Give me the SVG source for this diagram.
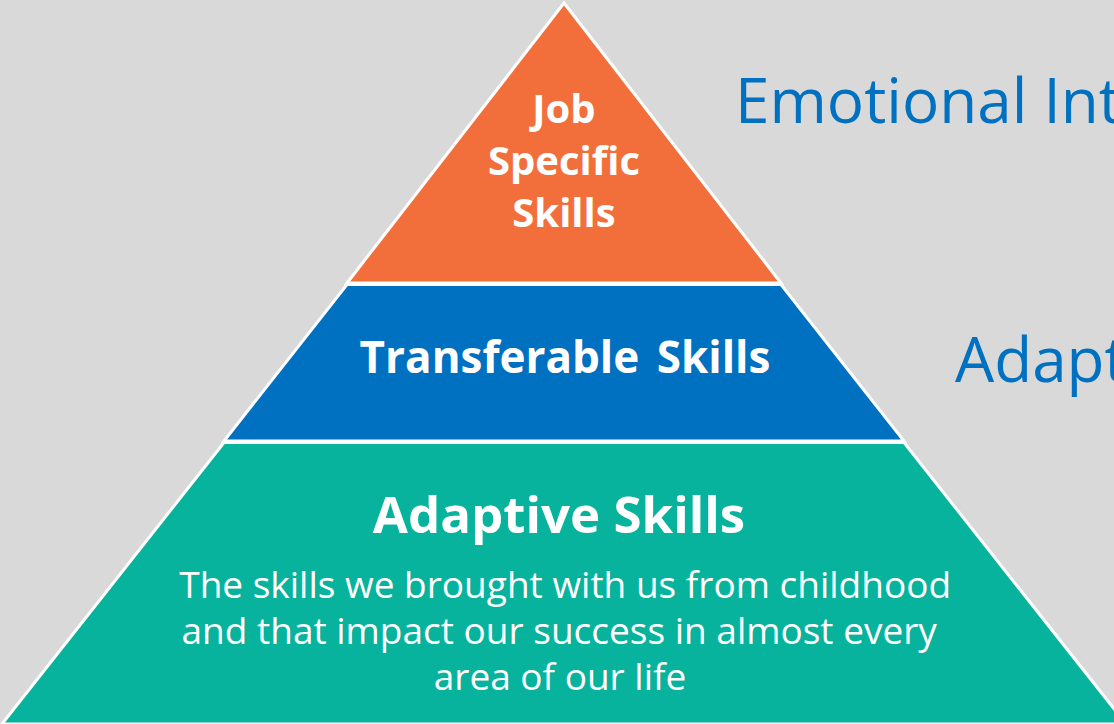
<svg xmlns="http://www.w3.org/2000/svg" width="1114" height="724" viewBox="0 0 1114 724">
  <style>
    .tier { stroke: #FFFFFF; stroke-width: 3; stroke-linejoin: miter; }
    .head { font-family: "Open Sans", "Noto Sans", sans-serif; font-weight: 700; fill: #FFFFFF; text-anchor: middle; }
    .body { font-family: "Open Sans", "Noto Sans", sans-serif; font-weight: 400; fill: #FFFFFF; text-anchor: middle; }
    .side { font-family: "Open Sans", "Noto Sans", sans-serif; font-weight: 400; fill: #0070C0; }
  </style>
  <rect x="0" y="0" width="1114" height="724" fill="#D9D9D9"/>

  <!-- top tier -->
  <g id="job-specific-skills">
    <polygon class="tier" fill="#F26F3B" points="564,3 781,283 347,283"/>
    <text class="head" font-size="40" x="564" y="123">Job</text>
    <text class="head" font-size="40" x="564" y="175">Specific</text>
    <text class="head" font-size="40" x="564" y="227">Skills</text>
  </g>

  <!-- middle tier -->
  <g id="transferable-skills">
    <polygon class="tier" fill="#0070C0" points="347,284.5 781,284.5 904,441 224,441"/>
    <text class="head" font-size="44" word-spacing="6" x="565" y="373">Transferable Skills</text>
  </g>

  <!-- base tier -->
  <g id="adaptive-skills">
    <polygon class="tier" fill="#07B39C" points="224,442.5 904,442.5 1126,724 2,724"/>
    <text class="head" font-size="51" x="559" y="533">Adaptive Skills</text>
    <text class="body" font-size="37">
      <tspan x="570" y="598">The skills we brought with us from childhood</tspan>
      <tspan x="564" y="644">and that impact our success in almost every</tspan>
      <tspan x="560" y="690">area of our life</tspan>
    </text>
  </g>

  <!-- side captions -->
  <g id="side-captions">
    <text class="side" font-size="62" x="735" y="123">Emotional Intelligence</text>
    <text class="side" font-size="62" x="955" y="382">Adaptive</text>
  </g>
</svg>
